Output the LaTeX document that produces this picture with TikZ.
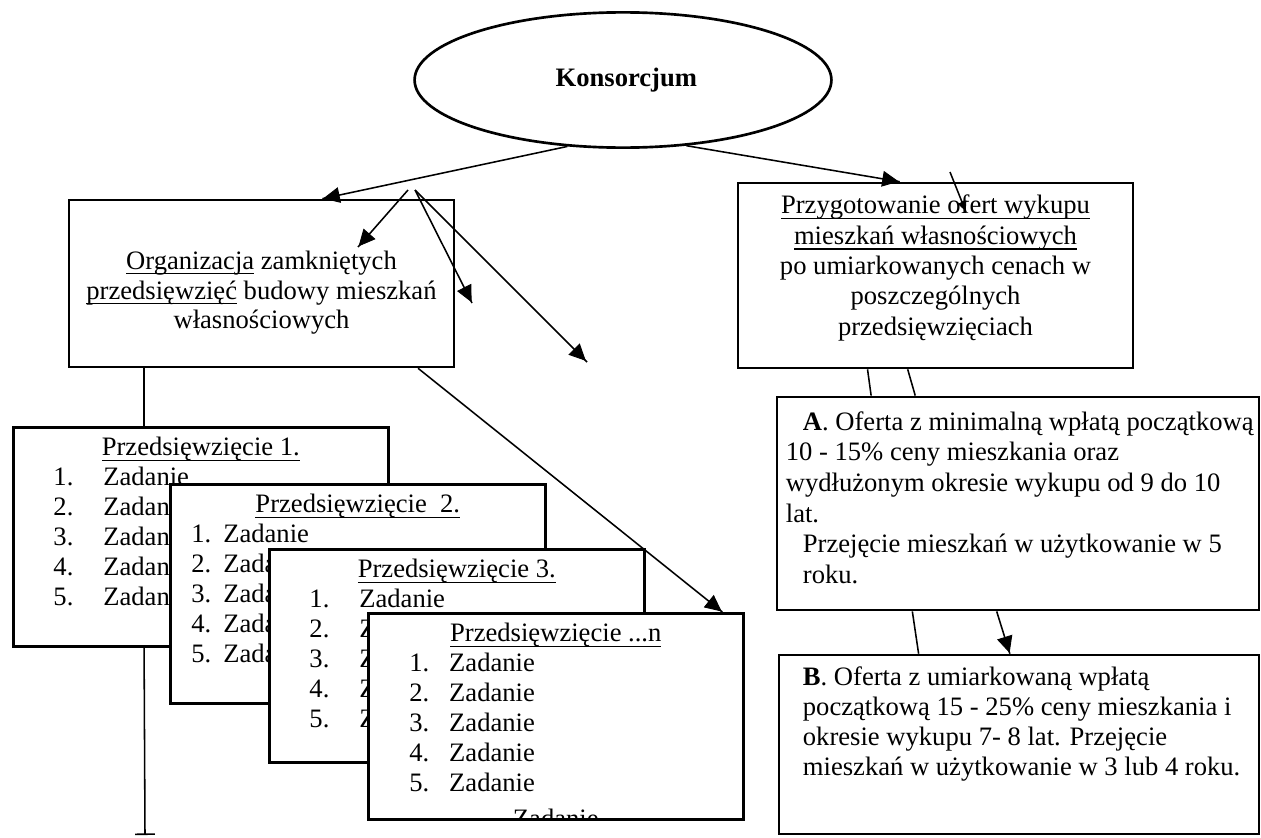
\documentclass[tikz,border=0pt]{standalone}
\usepackage{fontspec}
\setmainfont{Liberation Serif}
\usepackage{tikz}
\usetikzlibrary{positioning, calc, shapes.geometric, arrows.meta, decorations.markings}
\tikzstyle{Arrow} = [
%Big filled arrow head, as in the scheme:
line width=0.7pt,
decoration={
markings,
mark=at position 1 with {
\arrow{Triangle[length=8pt, width=7.5pt]}
}
},
preaction = {decorate}
]
\tikzstyle{SmallArrow} = [
line width=0.7pt,
decoration={
markings,
mark=at position 1 with {
\arrow{Triangle[length=5pt, width=4.5pt]}
}
},
preaction = {decorate}
]
\tikzstyle{Line} = [line width=0.7pt]
\newsavebox\pkbox
\newcommand{\pk}[1]{\leavevmode\sbox\pkbox{#1}\rlap{\rule[-2.4pt]{\wd\pkbox}{0.7pt}}\usebox\pkbox}
\newcommand{\zad}[3]{\makebox[#1][r]{#3.}\hspace*{#2}Zadanie\par}

\begin{document}
\begin{tikzpicture}[x=0.451pt, y=-0.451pt,
			every node/.style = {font=\fontsize{12}{13.5}\selectfont},
			box/.style = {rectangle, draw, line width=1.2pt, fill=white, inner sep=0pt},
			przed/.style = {box, anchor=north west},
			konsorcjum/.style = {ellipse, draw, line width=1.2pt, inner sep=0pt, minimum width=188pt, minimum height=61pt, font=\fontsize{12}{13.5}\selectfont\bfseries},
		]
		\useasboundingbox (0,0) rectangle (1261,837);

		\node[konsorcjum] (Kons) at (623,80) {\hspace*{3pt}Konsorcjum};

		\node[box] (Org) at (261.5,283.5) {\parbox[c][75.3pt][t]{173.6pt}{\centering\vspace*{21.7pt}\strut\pk{Organizacja} zamkniętych\\ \pk{przedsięwzięć} budowy mieszkań\\ własnościowych}};
		\node[box] (Przyg) at (935.5,275.5) {\parbox[c][83.4pt][t]{178.1pt}{\fontsize{12}{13.7}\selectfont\centering\vspace*{4.3pt}\strut\pk{Przygotowanie ofert wykupu}\\ \pk{mieszkań własnościowych}\\ po umiarkowanych cenach w\\ poszczególnych\\ przedsięwzięciach}};

		\node[box] (OfA) at (1018,503.5) {\parbox[c][96.1pt][t]{217.4pt}{\fontsize{12}{13.8}\selectfont\raggedright\vspace*{5.4pt}%
			\mbox{\strut\hspace*{11.7pt}\textbf{A}. Oferta z minimalną wpłatą początkową}\\
			\mbox{\hspace*{4pt}10 - 15\% ceny mieszkania oraz}\\
			\mbox{\hspace*{4pt}wydłużonym okresie wykupu od 9 do 10}\\
			\mbox{\hspace*{4pt}lat.}\\
			\mbox{\hspace*{11.7pt}Przejęcie mieszkań w użytkowanie w 5}\\
			\mbox{\hspace*{11.7pt}roku.}}};
		\node[box] (OfB) at (1019,744.5) {\parbox[c][80.7pt][t]{216.5pt}{\raggedright\vspace*{4.4pt}%
			\mbox{\strut\hspace*{10.8pt}\textbf{B}. Oferta z umiarkowaną wpłatą}\\
			\mbox{\hspace*{10.8pt}początkową 15 - 25\% ceny mieszkania i}\\
			\mbox{\hspace*{10.8pt}okresie wykupu 7- 8 lat. Przejęcie}\\
			\mbox{\hspace*{10.8pt}mieszkań w użytkowanie w 3 lub 4 roku.}}};

		% the stack of undertakings
		\node[przed] (P1) at (12,426) {\parbox[c][98.8pt][t]{169.1pt}{\vspace*{3.4pt}\centering\strut\pk{Przedsięwzięcie 1.}\par\raggedright
			\zad{27.1pt}{13.5pt}{1}\zad{27.1pt}{13.5pt}{2}\zad{27.1pt}{13.5pt}{3}\zad{27.1pt}{13.5pt}{4}\zad{27.1pt}{13.5pt}{5}}};
		\node[przed] (P2) at (169,483) {\parbox[c][98.8pt][t]{169.1pt}{\vspace*{3.4pt}\centering\strut\pk{Przedsięwzięcie\ \ 2.}\par\raggedright
			\zad{18.5pt}{5.4pt}{1}\zad{18.5pt}{5.4pt}{2}\zad{18.5pt}{5.4pt}{3}\zad{18.5pt}{5.4pt}{4}\zad{18.5pt}{5.4pt}{5}}};
		\node[przed] (P3) at (268,548) {\parbox[c][96.1pt][t]{169.1pt}{\vspace*{3.4pt}\centering\strut\pk{Przedsięwzięcie 3.}\par\raggedright
			\zad{27.1pt}{13.5pt}{1}\zad{27.1pt}{13.5pt}{2}\zad{27.1pt}{13.5pt}{3}\zad{27.1pt}{13.5pt}{4}\zad{27.1pt}{13.5pt}{5}}};
		\node[przed] (Pn) at (367,612) {\parbox[c][92.9pt][t]{169.1pt}{\vspace*{3.4pt}\centering\strut\pk{Przedsięwzięcie ...n}\par\raggedright
			\zad{27.5pt}{9pt}{1}\zad{27.5pt}{9pt}{2}\zad{27.5pt}{9pt}{3}\zad{27.5pt}{9pt}{4}\zad{27.5pt}{9pt}{5}}};
		\begin{scope}
			\clip (Pn.south west) rectangle (Pn.north east);
			\node[anchor=base] (PnZ) at ($(Pn.north)+(0,215)$) {Zadanie};
		\end{scope}

		\coordinate (S1) at (408,190);
		\coordinate (S2) at (415,190);
		\coordinate (T1) at (358,247);
		\coordinate (T2) at (472,303);
		\coordinate (T3) at (587,362);
		\coordinate (S3) at (950,172);
		\coordinate (T4) at (966,212);
		\coordinate (O1) at ($(Org.south west)!0.197!(Org.south east)$);
		\coordinate (Dol) at (145,835);

		\draw[Arrow](Kons.230)--($(Org.north west)!0.657!(Org.north east)$);
		\draw[Arrow](Kons.314)--($(Przyg.north west)!0.41!(Przyg.north east)$);
		\draw[Arrow](S1)--(T1);
		\draw[Arrow](S2)--(T2);
		\draw[Arrow](S2)--(T3);
		\draw[SmallArrow](S3)--(T4);

		\draw[Line](O1)--(O1 |- P1.north);
		\draw[Line, -{Bar[width=9pt]}](O1 |- P1.south)--(Dol);
		\draw[Arrow]($(Org.south west)!0.904!(Org.south east)$)--($(Pn.north west)!0.941!(Pn.north east)$);

		\draw[Line]($(Przyg.south west)!0.329!(Przyg.south east)$)--($(OfA.north west)!0.197!(OfA.north east)$);
		\draw[Line]($(Przyg.south west)!0.43!(Przyg.south east)$)--($(OfA.north west)!0.288!(OfA.north east)$);
		\draw[Line]($(OfA.south west)!0.282!(OfA.south east)$)--($(OfB.north west)!0.292!(OfB.north east)$);
		\draw[Arrow]($(OfA.south west)!0.456!(OfA.south east)$)--($(OfB.north west)!0.481!(OfB.north east)$);

	\end{tikzpicture}
\end{document}
